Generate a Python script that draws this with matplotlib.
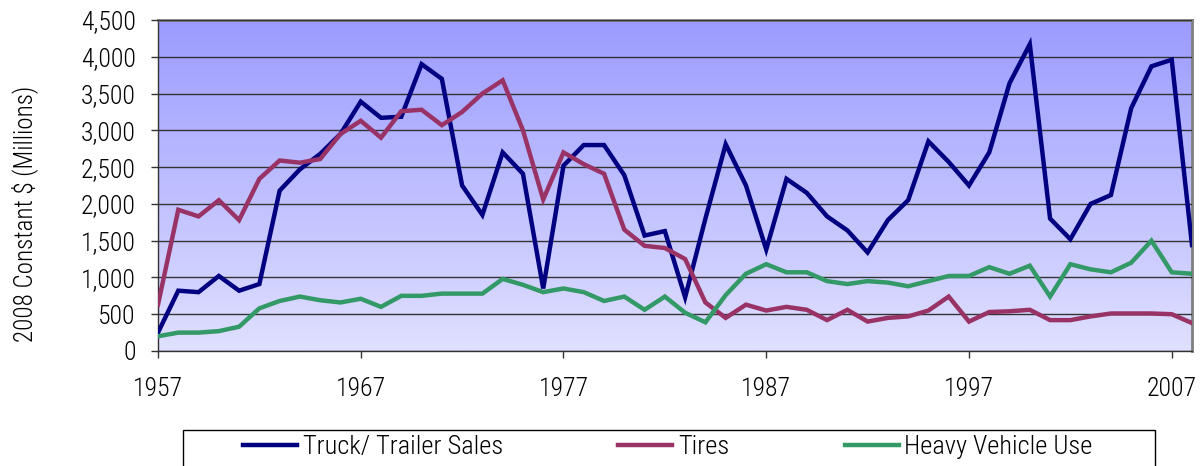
import numpy as np
import matplotlib
matplotlib.use("Agg")
import matplotlib.pyplot as plt
from matplotlib.patches import Rectangle
from matplotlib.ticker import FuncFormatter, MultipleLocator
from matplotlib.colors import LinearSegmentedColormap

plt.rcParams['font.family'] = ['Roboto Condensed', 'Liberation Sans', 'DejaVu Sans']
plt.rcParams['font.weight'] = 300

years = list(range(1957, 2009))

truck_trailer_sales = [250, 820, 800, 1020, 820, 910, 2180, 2470, 2680, 2950,
                       3390, 3170, 3185, 3900, 3700, 2250, 1850, 2700, 2410, 850,
                       2520, 2800, 2800, 2390, 1570, 1630, 730, 1800, 2810, 2250,
                       1380, 2340, 2150, 1830, 1640, 1340, 1780, 2050, 2850, 2570,
                       2250, 2700, 3640, 4170, 1800, 1520, 2000, 2120, 3300, 3870,
                       3960, 1440]

tires = [630, 1920, 1830, 2050, 1780, 2340, 2590, 2560, 2610, 2950,
         3130, 2900, 3260, 3280, 3070, 3250, 3500, 3680, 3000, 2060,
         2700, 2540, 2410, 1650, 1430, 1400, 1250, 660, 450, 630,
         550, 600, 560, 420, 560, 400, 450, 470, 550, 740,
         400, 530, 540, 560, 420, 420, 470, 510, 510, 510,
         500, 380]

heavy_vehicle_use = [200, 250, 250, 270, 330, 580, 680, 740, 690, 660,
                     710, 600, 750, 750, 780, 780, 780, 980, 900, 800,
                     850, 800, 680, 740, 560, 740, 520, 390, 760, 1050,
                     1180, 1070, 1070, 950, 910, 950, 930, 880, 950, 1020,
                     1020, 1140, 1050, 1160, 740, 1180, 1110, 1070, 1200, 1500,
                     1070, 1050]

series_labels = ["Truck/ Trailer Sales", "Tires", "Heavy Vehicle Use"]
series_colors = ["#000080", "#993366", "#339966"]

W, H = 1203, 466
fig = plt.figure(figsize=(W / 100, H / 100), dpi=100)
left, right, top, bottom = 158, 1192, 20, 351
ax = fig.add_axes([left / W, 1 - bottom / H, (right - left) / W, (bottom - top) / H])

grad = np.linspace(0, 1, 256).reshape(-1, 1)
cmap = LinearSegmentedColormap.from_list("bg", ["#9B9BFF", "#E0E0FF"])
ax.imshow(grad, aspect='auto', cmap=cmap, extent=[0, 1, 0, 1],
          transform=ax.transAxes, zorder=0, interpolation='bilinear')

for vals, lab, col in zip([truck_trailer_sales, tires, heavy_vehicle_use], series_labels, series_colors):
    ax.plot(years, vals, color=col, lw=3.2, label=lab, zorder=3, solid_joinstyle='miter')

ax.set_xlim(1957, 2008)
ax.set_ylim(0, 4500)
ax.yaxis.set_major_locator(MultipleLocator(500))
ax.yaxis.set_major_formatter(FuncFormatter(lambda v, p: f"{int(v):,}"))
ax.set_xticks(range(1957, 2008, 10))
ax.grid(axis='y', color='#333333', lw=1.0, zorder=1)
ax.set_axisbelow(False)

for s in ['top', 'right']:
    ax.spines[s].set_color('#808080')
    ax.spines[s].set_linewidth(2)
for s in ['left', 'bottom']:
    ax.spines[s].set_color('#333333')
    ax.spines[s].set_linewidth(1)

tfs = 18.5
ax.tick_params(axis='y', length=5, width=1, color='#333333', pad=11, labelsize=tfs)
ax.tick_params(axis='x', length=5, width=1, color='#333333', pad=14, labelsize=tfs)

fig.text(25 / W, 1 - 214 / H, "2008 Constant $ (Millions)", rotation=90,
         ha='center', va='center', fontsize=18)

fig.patches.append(Rectangle((183 / W, 1 - 480 / H), (1155 - 183) / W, 50 / H,
                             transform=fig.transFigure, fill=False,
                             edgecolor='#000000', lw=1.0))
fs = 19
px_per_em = fs * 100 / 72
fig.legend(loc='center left', bbox_to_anchor=(243 / W, 1 - 447 / H), ncol=3,
           frameon=False, fontsize=fs, handlelength=54 / px_per_em,
           handletextpad=6 / px_per_em, columnspacing=115 / px_per_em,
           borderaxespad=0, borderpad=0)

fig.savefig("out.png", dpi=100)
